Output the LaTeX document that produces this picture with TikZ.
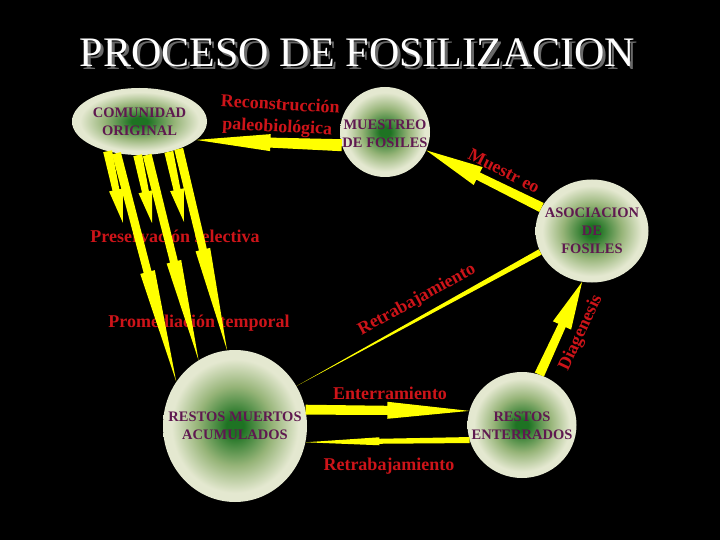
\documentclass[tikz,border=0pt]{standalone}
\usepackage{fontspec}
\setmainfont{Liberation Serif}
\usetikzlibrary{calc,shapes.geometric}

\definecolor{ballc}{RGB}{30,115,35}
\definecolor{ballm}{RGB}{150,180,120}
\definecolor{ballp}{RGB}{228,232,208}
\definecolor{lblred}{RGB}{205,20,25}
\definecolor{txtpur}{RGB}{95,25,80}
\definecolor{arry}{RGB}{255,255,0}
\definecolor{shadowgray}{RGB}{105,105,105}

\pgfdeclareradialshading{ballg}{\pgfpoint{0bp}{0bp}}{color(0bp)=(ballc); color(3bp)=(ballc); color(13bp)=(ballm); color(22bp)=(ballp); color(50bp)=(ballp)}

% tapered yellow arrow: tail, tip, tail half-width, barb fraction, shaft half-width at barb, barb half-width
\newcommand{\yarr}[6]{%
  \fill[yarrow] ($(#1)!#3!90:(#2)$) -- ($(#1)!#4!(#2)!#5!90:(#2)$) -- ($(#1)!#4!(#2)!#6!90:(#2)$) -- (#2)
    -- ($(#1)!#4!(#2)!#6!-90:(#2)$) -- ($(#1)!#4!(#2)!#5!-90:(#2)$) -- ($(#1)!#3!-90:(#2)$) -- cycle;}

\begin{document}
\begin{tikzpicture}[x=1pt,y=-1pt,
  ball/.style={ellipse, shade, shading=ballg, inner sep=0pt, draw=none},
  ptxt/.style={font=\bfseries\fontsize{14.5}{18}\selectfont, text=txtpur, align=center, inner sep=0pt},
  rlbl/.style={font=\bfseries\fontsize{18}{20}\selectfont, text=lblred, inner sep=0pt},
  ttl/.style={font=\fontsize{42}{46}\selectfont, anchor=base, inner sep=0pt},
  yarrow/.style={fill=arry, draw=none}]
\fill[black] (0,0) rectangle (720,540);
\useasboundingbox (0,0) rectangle (720,540);

% title
\node[ttl, text=shadowgray] (titleshadow) at (360.5,70) {PROCESO DE FOSILIZACION};
\node[ttl, text=white] (title) at (357.5,67) {PROCESO DE FOSILIZACION};

% nodes
\node[ball, minimum width=135pt, minimum height=67pt,
  label={[ptxt]center:COMUNIDAD\\ORIGINAL}] (com) at (139.5,121.5) {};
\node[ball, minimum width=90pt, minimum height=90pt,
  label={[ptxt, yshift=-2pt]center:MUESTREO\\DE FOSILES}] (mue) at (385,132) {};
\node[ball, minimum width=113pt, minimum height=103pt,
  label={[ptxt]center:ASOCIACION\\DE\\FOSILES}] (aso) at (592,231) {};
\node[ball, minimum width=144pt, minimum height=152pt,
  label={[ptxt]center:RESTOS MUERTOS\\ACUMULADOS}] (rm) at (235,426) {};
\node[ball, minimum width=109pt, minimum height=106pt,
  label={[ptxt, yshift=-1pt]center:RESTOS\\ENTERRADOS}] (re) at (522,425) {};

% labels
\node[rlbl, rotate=-3, anchor=base] (lrec) at (280,110) {Reconstrucción};
\node[rlbl, rotate=-3, anchor=base] (lpal) at (277,132) {paleobiológica};
\node[rlbl, anchor=base] (lpres) at (175,243) {Preservación selectiva};
\node[rlbl, anchor=base] (lprom) at (199,327) {Promediación temporal};
\node[rlbl, anchor=base] (lent) at (390,399) {Enterramiento};
\node[rlbl, anchor=base] (lret) at (389,470) {Retrabajamiento};
\node[rlbl, rotate=-27] (lmue) at (504,171) {Muestr eo};
\node[rlbl, rotate=28.5] (lret2) at (417,300) {Retrabajamiento};
\node[rlbl, rotate=65] (ldia) at (581,333) {Diagenesis};

% free ends of the short arrows
\coordinate (s1) at (123,223);
\coordinate (s2) at (152,223);
\coordinate (s3) at (184,222);

% downward arrows from COMUNIDAD ORIGINAL
\yarr{com.223}{s1}{4.5pt}{0.54}{3.5pt}{7pt}
\yarr{com.234}{rm.143}{4.5pt}{0.52}{4pt}{7.5pt}
\yarr{com.267}{s2}{4.5pt}{0.54}{3.5pt}{7pt}
\yarr{com.283}{rm.119}{4.5pt}{0.52}{4pt}{7.5pt}
\yarr{com.314}{s3}{4.5pt}{0.54}{3.5pt}{7pt}
\yarr{com.325}{rm.96}{4.5pt}{0.50}{4pt}{7.5pt}

% other arrows
\yarr{mue.197}{com.342}{6pt}{0.49}{5pt}{8.5pt}
\yarr{aso.155}{mue.336}{5pt}{0.55}{4pt}{10pt}
\yarr{aso.202}{rm.33}{3pt}{0.5}{1.5pt}{1.5pt}
\yarr{re.71}{aso.259}{5pt}{0.53}{4pt}{10pt}
\yarr{rm.13}{re.165}{5pt}{0.5}{4.5pt}{8.5pt}
\yarr{re.196}{rm.347}{3pt}{0.55}{2.5pt}{4pt}
\end{tikzpicture}
\end{document}
